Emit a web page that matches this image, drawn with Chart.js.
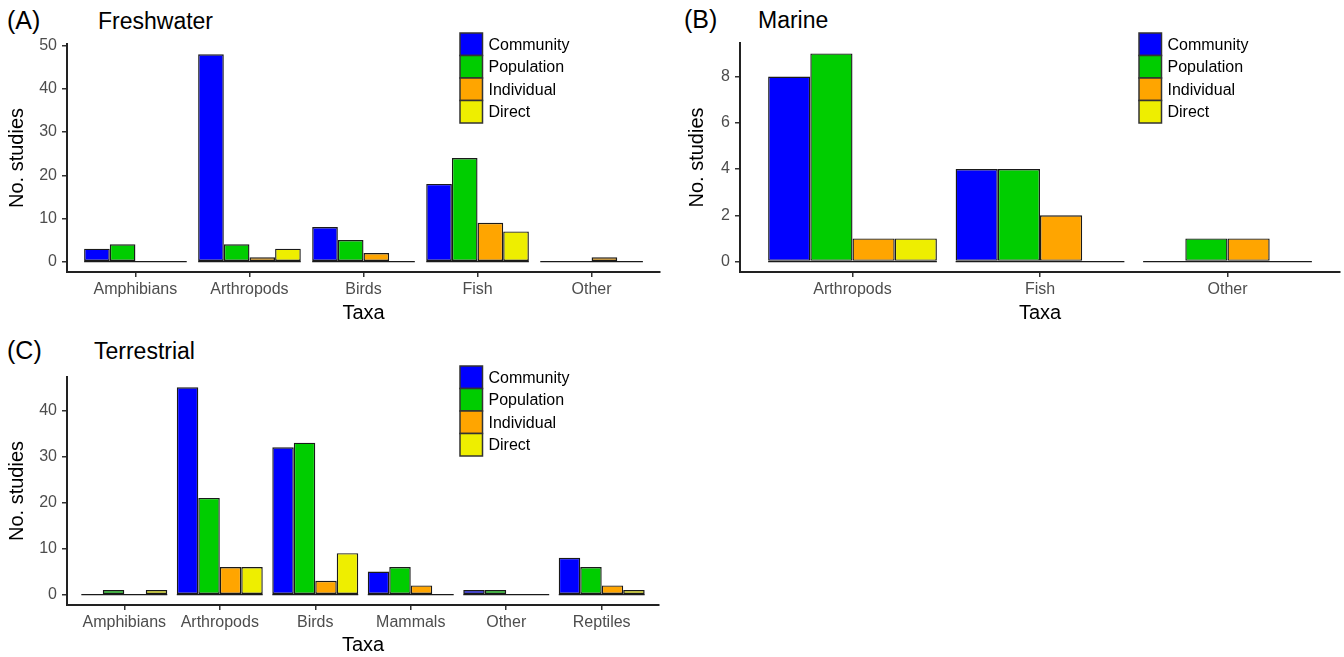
<!DOCTYPE html>
<html>
<head>
<meta charset="utf-8">
<script src="https://cdn.jsdelivr.net/npm/chart.js@4.4.1/dist/chart.umd.min.js"></script>
<style>
body { margin: 0; background: #fff; width: 1344px; height: 657px; position: relative; overflow: hidden; font-family: 'Liberation Sans', Arial, sans-serif; }
canvas { position: absolute; }
.tag, .title { position: absolute; color: #000; white-space: nowrap; }
.tag { font-size: 25px; line-height: 25px; }
.title { font-size: 23px; line-height: 23px; }
</style>
</head>
<body>
<div class="tag" style="left:7px;top:8px">(A)</div>
<div class="title" style="left:98px;top:10px">Freshwater</div>
<div class="tag" style="left:684px;top:7px">(B)</div>
<div class="title" style="left:758px;top:9px">Marine</div>
<div class="tag" style="left:7px;top:338px">(C)</div>
<div class="title" style="left:94px;top:340px">Terrestrial</div>

<canvas id="chartA" width="672" height="330" style="left:0;top:0"></canvas>
<canvas id="chartB" width="672" height="330" style="left:672px;top:0"></canvas>
<canvas id="chartC" width="672" height="327" style="left:0;top:330px"></canvas>

<script>
// Series shared by all panels
const seriesNames = ['Community', 'Population', 'Individual', 'Direct'];
const seriesColors = ['#0000FF', '#00CD00', '#FFA500', '#EEEE00'];

// (A) Freshwater
const freshTaxa = ['Amphibians', 'Arthropods', 'Birds', 'Fish', 'Other'];
const freshCommunity = [3, 48, 8, 18, 0];
const freshPopulation = [4, 4, 5, 24, 0];
const freshIndividual = [0, 1, 2, 9, 1];
const freshDirect = [0, 3, 0, 7, 0];
const freshTicks = [0, 10, 20, 30, 40, 50];

// (B) Marine
const marineTaxa = ['Arthropods', 'Fish', 'Other'];
const marineCommunity = [8, 4, 0];
const marinePopulation = [9, 4, 1];
const marineIndividual = [1, 2, 1];
const marineDirect = [1, 0, 0];
const marineTicks = [0, 2, 4, 6, 8];

// (C) Terrestrial
const terrTaxa = ['Amphibians', 'Arthropods', 'Birds', 'Mammals', 'Other', 'Reptiles'];
const terrCommunity = [0, 45, 32, 5, 1, 8];
const terrPopulation = [1, 21, 33, 6, 1, 6];
const terrIndividual = [0, 6, 3, 2, 0, 2];
const terrDirect = [1, 6, 9, 0, 0, 1];
const terrTicks = [0, 10, 20, 30, 40];

Chart.defaults.font.family = "'Liberation Sans', Arial, sans-serif";

// flat outline for each taxon group at y = 0 (zero-height bars)
const zeroLine = {
    id: 'zeroLine',
    beforeDatasetsDraw(chart) {
        const ctx = chart.ctx;
        const first = chart.getDatasetMeta(0).data;
        const last = chart.getDatasetMeta(chart.data.datasets.length - 1).data;
        const y0 = chart.scales.y.getPixelForValue(0);
        ctx.save();
        ctx.strokeStyle = '#1a1a1a';
        ctx.lineWidth = 1.3;
        first.forEach((bar, i) => {
            ctx.beginPath();
            ctx.moveTo(bar.x - bar.width / 2, y0);
            ctx.lineTo(last[i].x + last[i].width / 2, y0);
            ctx.stroke();
        });
        ctx.restore();
    }
};

// stacked square legend inside the panel
const boxLegend = {
    id: 'boxLegend',
    afterDraw(chart, args, o) {
        const ctx = chart.ctx;
        ctx.save();
        chart.data.datasets.forEach((ds, k) => {
            const y = o.y + k * o.size;
            ctx.fillStyle = ds.backgroundColor;
            ctx.fillRect(o.x, y, o.size, o.size);
            ctx.strokeStyle = '#333';
            ctx.lineWidth = 1.5;
            ctx.strokeRect(o.x, y, o.size, o.size);
            ctx.fillStyle = '#000';
            ctx.font = "16px 'Liberation Sans', Arial, sans-serif";
            ctx.textBaseline = 'middle';
            ctx.fillText(ds.label, o.x + o.size + 6, y + o.size / 2 + 1);
        });
        ctx.restore();
    }
};

function buildPanel(id, taxa, series, yTicks, opts) {
    const top = Math.max(...series.flat());
    const yMin = -0.05 * top;
    const yMax = 1.05 * top;

    return new Chart(document.getElementById(id), {
        type: 'bar',
        data: {
            datasets: series.map((vals, k) => ({
                label: seriesNames[k],
                data: vals.map((v, i) => ({ x: i, y: v })),
                backgroundColor: seriesColors[k],
                borderColor: '#1a1a1a',
                borderWidth: 1.4,
                borderSkipped: false,
                categoryPercentage: 0.9,
                barPercentage: 1
            }))
        },
        options: {
            responsive: false,
            animation: false,
            layout: { padding: { left: 0, right: opts.padRight, top: opts.padTop, bottom: opts.padBottom } },
            plugins: {
                legend: { display: false },
                tooltip: { enabled: false },
                boxLegend: { x: opts.legendX, y: opts.legendY, size: 22.5 }
            },
            scales: {
                x: {
                    type: 'linear',
                    offset: false,
                    min: -0.6,
                    max: taxa.length - 0.4,
                    afterBuildTicks: s => { s.ticks = taxa.map((t, i) => ({ value: i })); },
                    afterFit: s => { s.height = opts.xHeight; },
                    ticks: {
                        callback: v => taxa[v],
                        color: '#4D4D4D',
                        font: { size: 16 },
                        padding: 3,
                        maxRotation: 0,
                        autoSkip: false
                    },
                    grid: { display: true, drawOnChartArea: false, drawTicks: true, tickLength: 5, color: '#333', lineWidth: 1.5, offset: false },
                    border: { display: true, color: '#222', width: 2 },
                    title: { display: true, text: 'Taxa', color: '#000', font: { size: 20 }, padding: { top: 0, bottom: 0 } }
                },
                y: {
                    min: yMin,
                    max: yMax,
                    afterBuildTicks: s => { s.ticks = yTicks.map(v => ({ value: v })); },
                    afterFit: s => { s.width = opts.yWidth; },
                    ticks: { color: '#4D4D4D', font: { size: 16 }, padding: 5 },
                    grid: { display: true, drawOnChartArea: false, drawTicks: true, tickLength: 5, color: '#333', lineWidth: 1.5 },
                    border: { display: true, color: '#222', width: 2 },
                    title: { display: true, text: 'No. studies', color: '#000', font: { size: 20 }, padding: { top: opts.yTitlePad, bottom: 0 } }
                }
            }
        },
        plugins: [zeroLine, boxLegend]
    });
}

buildPanel('chartA', freshTaxa,
    [freshCommunity, freshPopulation, freshIndividual, freshDirect], freshTicks,
    { padRight: 12, padTop: 44, padBottom: 5, xHeight: 53, yWidth: 67, yTitlePad: 5, legendX: 460, legendY: 33 });

buildPanel('chartB', marineTaxa,
    [marineCommunity, marinePopulation, marineIndividual, marineDirect], marineTicks,
    { padRight: 4, padTop: 43, padBottom: 5, xHeight: 53, yWidth: 68, yTitlePad: 13, legendX: 467, legendY: 33 });

buildPanel('chartC', terrTaxa,
    [terrCommunity, terrPopulation, terrIndividual, terrDirect], terrTicks,
    { padRight: 13, padTop: 47, padBottom: 0, xHeight: 52, yWidth: 67, yTitlePad: 5, legendX: 460, legendY: 36 });
</script>
</body>
</html>
